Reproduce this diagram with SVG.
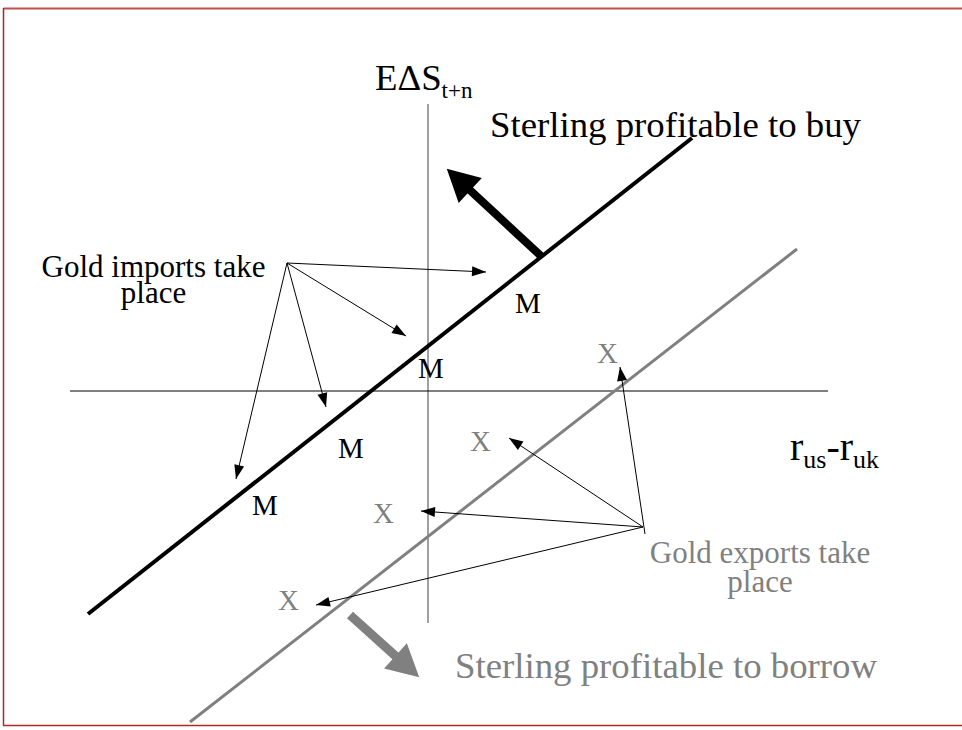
<svg xmlns="http://www.w3.org/2000/svg" width="962" height="730" viewBox="0 0 962 730">
<style>
  text { font-family: "Liberation Serif", "Times New Roman", serif; }
  .big { font-size: 36.8px; }
  .lab { font-size: 31px; }
  .mk { font-size: 29px; }
  .blk { fill: #000; }
  .gry { fill: #808080; }
  .thin { stroke: #000; stroke-width: 1; fill: none; marker-end: url(#ah); }
</style>
<defs>
  <marker id="ah" markerUnits="userSpaceOnUse" markerWidth="16" markerHeight="12" viewBox="0 -6 15 12" refX="14" refY="0" orient="auto">
    <path d="M0,-5 L14,0 L0,5 z" fill="#000"/>
  </marker>
  <marker id="bigk" markerUnits="userSpaceOnUse" markerWidth="34" markerHeight="36" viewBox="0 -18 33 36" refX="1" refY="0" orient="auto">
    <path d="M0,-17 L32,0 L0,17 z" fill="#000"/>
  </marker>
  <marker id="bigg" markerUnits="userSpaceOnUse" markerWidth="34" markerHeight="36" viewBox="0 -18 33 36" refX="1" refY="0" orient="auto">
    <path d="M0,-17 L32,0 L0,17 z" fill="#808080"/>
  </marker>
</defs>
<rect width="962" height="730" fill="#fff"/>
<g id="frame">
  <line x1="3.5" y1="8.5" x2="962" y2="8.5" stroke="#c0504d" stroke-width="2"/>
  <line x1="3.5" y1="8" x2="3.5" y2="725.5" stroke="#a52a2a" stroke-width="1.5"/>
  <line x1="3" y1="725.5" x2="962" y2="725.5" stroke="#b02828" stroke-width="1.5"/>
</g>
<g id="axes">
  <line x1="428" y1="104" x2="428" y2="623" stroke="#808080" stroke-width="1.5"/>
  <line x1="70" y1="391" x2="828" y2="391" stroke="#000" stroke-width="1"/>
</g>
<g id="lines">
  <line x1="88" y1="614" x2="692" y2="138" stroke="#000" stroke-width="4"/>
  <line x1="190" y1="722" x2="797" y2="249" stroke="#808080" stroke-width="3"/>
</g>
<g id="connectors">
  <line x1="541" y1="256" x2="469.5" y2="189.8" stroke="#000" stroke-width="8" marker-end="url(#bigk)"/>
  <line x1="350" y1="615" x2="396.2" y2="656.6" stroke="#808080" stroke-width="9" marker-end="url(#bigg)"/>
  <line class="thin" x1="287" y1="263" x2="486" y2="272"/>
  <line class="thin" x1="287" y1="263" x2="406" y2="336"/>
  <line class="thin" x1="287" y1="263" x2="326" y2="407"/>
  <line class="thin" x1="287" y1="263" x2="236" y2="479"/>
  <line class="thin" x1="645" y1="534" x2="620" y2="367"/>
  <line class="thin" x1="643" y1="527" x2="509" y2="438"/>
  <line class="thin" x1="643" y1="527" x2="421" y2="511"/>
  <line class="thin" x1="643" y1="527" x2="316" y2="605"/>
</g>
<g id="axis-labels">
  <text class="big blk" x="375" y="90">EΔS<tspan font-size="23" dy="8">t+n</tspan></text>
  <text class="blk" font-size="40" x="790" y="460">r<tspan font-size="26" dy="8">us</tspan><tspan dy="-8">-r</tspan><tspan font-size="26" dy="8">uk</tspan></text>
</g>
<g id="sterling-buy">
  <text class="big blk" x="490" y="137">Sterling profitable to buy</text>
</g>
<g id="sterling-borrow">
  <text class="big gry" x="455" y="678">Sterling profitable to borrow</text>
</g>
<g id="gold-imports">
  <text class="lab blk" text-anchor="middle" x="153.5" y="277">Gold imports take</text>
  <text class="lab blk" text-anchor="middle" x="153.5" y="303">place</text>
</g>
<g id="gold-exports">
  <text class="lab gry" text-anchor="middle" x="760" y="563">Gold exports take</text>
  <text class="lab gry" text-anchor="middle" x="760" y="592">place</text>
</g>
<g id="m-labels">
  <text class="mk blk" x="418" y="378">M</text>
  <text class="mk blk" x="338" y="458">M</text>
  <text class="mk blk" x="252" y="515">M</text>
  <text class="mk blk" x="515" y="313">M</text>
</g>
<g id="x-labels">
  <text class="mk gry" x="597" y="363">X</text>
  <text class="mk gry" x="470" y="451">X</text>
  <text class="mk gry" x="373" y="523">X</text>
  <text class="mk gry" x="278" y="610">X</text>
</g>
</svg>
